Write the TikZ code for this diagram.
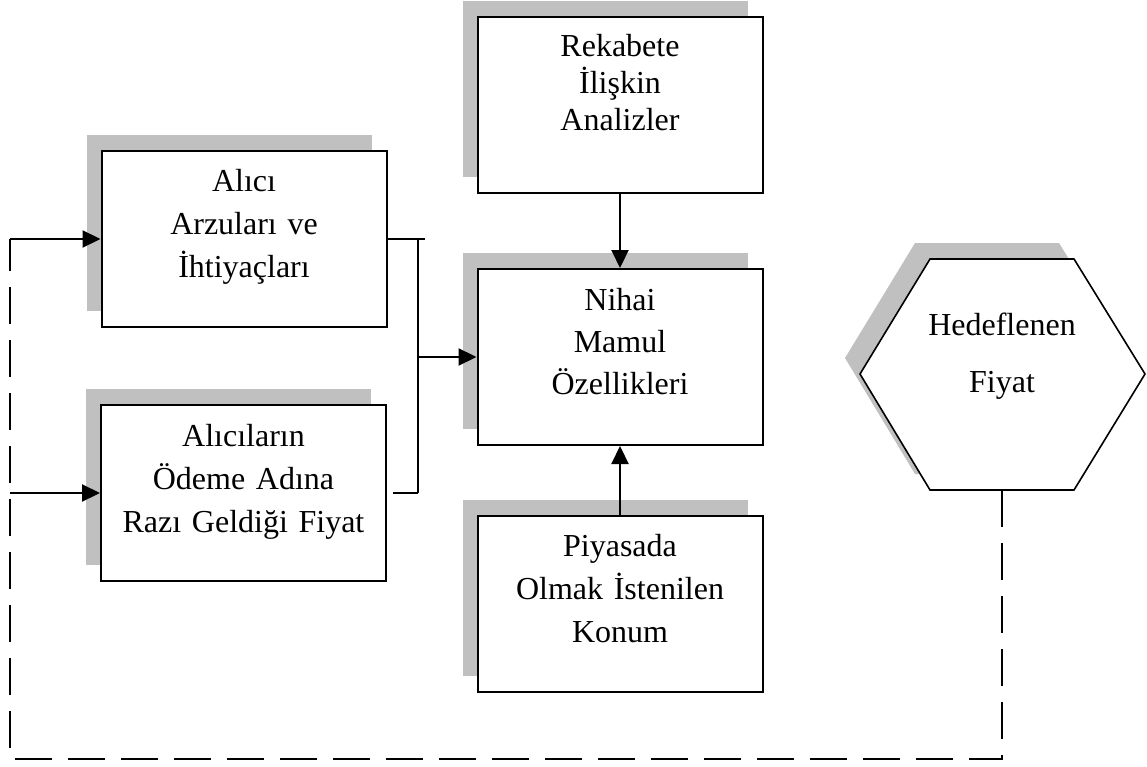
\documentclass[tikz,border=0pt]{standalone}
\usepackage{fontspec}
\setmainfont{Liberation Serif}
\usetikzlibrary{arrows.meta}
\definecolor{shadowgray}{RGB}{192,192,192}
\begin{document}
\begin{tikzpicture}[x=1pt,y=-1pt,
  shadowed/.style={preaction={fill=shadowgray, draw=none,
      transform canvas={xshift=-15pt,yshift=16pt}}},
  box/.style={shadowed, draw, fill=white, line width=2pt,
      minimum width=285pt, minimum height=176pt, inner sep=0pt},
  txt/.style={align=center, text width=275pt, inner sep=0pt, anchor=base},
  skip/.style={font=\fontsize{32pt}{#1pt}\selectfont},
  flow/.style={line width=2.2pt, -{Triangle[length=18pt,width=17pt]}},
  link/.style={line width=1.6pt},
  feedback/.style={line width=1.8pt, dash pattern=on 37pt off 16pt},
]
\useasboundingbox (0,0) rectangle (1147,767);

% rectangular boxes
\node[box] (A) at (244,239) {};
\node[box] (B) at (243.5,493) {};
\node[box] (R) at (620,105) {};
\node[box] (N) at (620,357) {};
\node[box] (P) at (620,604) {};

% hexagon
\path[shadowed, draw=black, fill=white, line width=1.6pt]
  (930,259) -- (1074,259) -- (1145,374) -- (1074,490) -- (930,490) -- (860,374) -- cycle;
\coordinate (Hbot) at (1002,490);

% texts
\node[txt, skip=43] (At) at (244,192) {Alıcı\\Arzuları ve\\İhtiyaçları};
\node[txt, skip=43] (Bt) at (243.5,446) {Alıcıların\\Ödeme Adına\\Razı Geldiği Fiyat};
\node[txt, skip=37] (Rt) at (620,57) {Rekabete\\İlişkin\\Analizler};
\node[txt, skip=42] (Nt) at (620,310) {Nihai\\Mamul\\Özellikleri};
\node[txt, skip=43] (Pt) at (620,556) {Piyasada\\Olmak İstenilen\\Konum};
\node[txt, skip=57] (H) at (1002,335) {Hedeflenen\\Fiyat};

% joining bracket on the left boxes
\coordinate (jTop) at (418,239);
\coordinate (jBot) at (418,493);
\coordinate (jMid) at (418,357);
\draw[link] (A.east) -- ([xshift=7pt]jTop);
\draw[link] (jTop) -- (jBot);
\draw[link] ([xshift=6pt]B.east) -- (jBot);
\draw[flow] (jMid) -- (N.west);

% vertical inputs
\draw[flow] (R.south) -- (N.north);
\draw[flow] (P.north) -- (N.south);

% feedback loop from the target price
\coordinate (fbBR) at (1002,759);
\coordinate (fbBL) at (10,759);
\coordinate (fbA) at (10,239);
\coordinate (fbB) at (10,493);
\draw[feedback] (Hbot) -- (fbBR) -- (fbBL) -- (fbA);
\draw[flow] (fbA) -- (A.west);
\draw[flow] (fbB) -- (B.west);
\end{tikzpicture}
\end{document}
